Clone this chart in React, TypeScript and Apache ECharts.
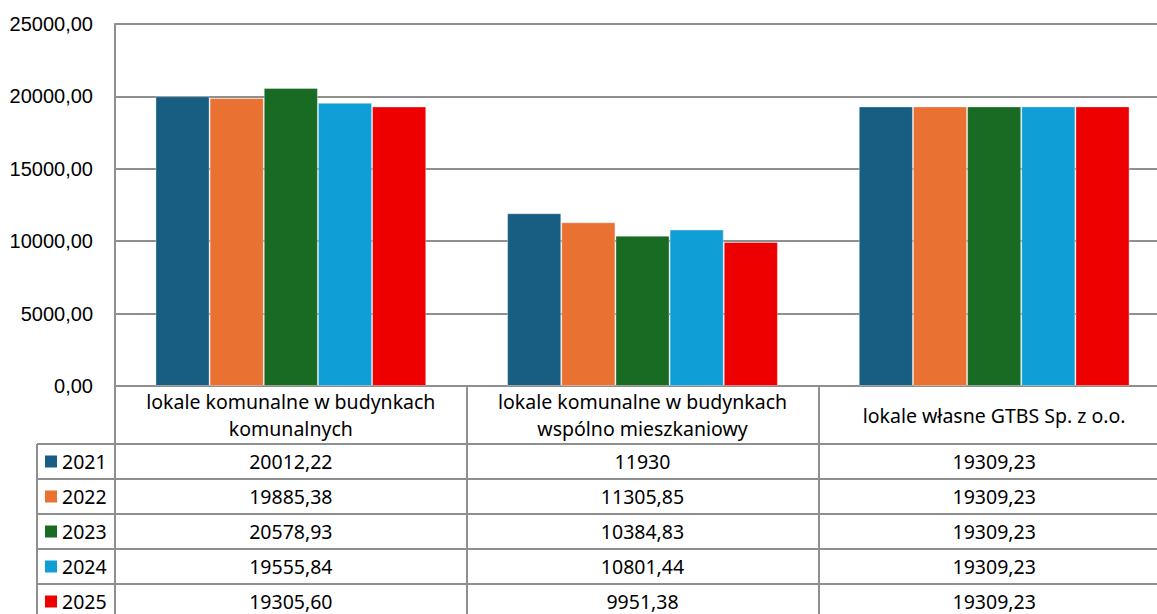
import React, { useEffect, useRef } from "react";
import * as echarts from "echarts";

const categories = [
  "lokale komunalne w budynkach\nkomunalnych",
  "lokale komunalne w budynkach\nwspólno mieszkaniowy",
  "lokale własne GTBS Sp. z o.o.",
];
const years = ["2021", "2022", "2023", "2024", "2025"];
const values2021 = [20012.22, 11930, 19309.23];
const values2022 = [19885.38, 11305.85, 19309.23];
const values2023 = [20578.93, 10384.83, 19309.23];
const values2024 = [19555.84, 10801.44, 19309.23];
const values2025 = [19305.6, 9951.38, 19309.23];
const seriesValues = [values2021, values2022, values2023, values2024, values2025];
const colors = ["#175E82", "#E97132", "#196B24", "#0F9ED5", "#EE0000"];
const yMin = 0;
const yMax = 25000;
const yInterval = 5000;

const fmt = (v: number) =>
  Number.isInteger(v) ? String(v) : v.toFixed(2).replace(".", ",");

const GRID_LEFT = 115;
const GRID_TOP = 24;
const GRID_W = 1055;
const GRID_H = 362;
const TABLE_TOP = 444;
const ROW_H = 35;
const LEG_LEFT = 37;
const LINE = "#8f8f8f";
const LW = 2;
const TXT_FONT = "'Noto Sans', sans-serif";
const TXT_SIZE = 19.5;

export default function App() {
  const ref = useRef<HTMLDivElement>(null);
  useEffect(() => {
    if (!ref.current) return;
    const chart = echarts.init(ref.current, null, { renderer: "svg" });
    chart.setOption({
      animation: false,
      backgroundColor: "#ffffff",
      grid: {
        left: GRID_LEFT,
        top: GRID_TOP,
        width: GRID_W,
        height: GRID_H,
        containLabel: false,
        outerBoundsMode: "none",
      },
      xAxis: {
        type: "category",
        data: categories,
        axisLine: { show: true, lineStyle: { color: LINE, width: LW } },
        axisTick: { show: true, length: 614 - (GRID_TOP + GRID_H), lineStyle: { color: LINE, width: LW } },
        axisLabel: {
          margin: 29,
          verticalAlign: "middle",
          color: "#000",
          fontFamily: TXT_FONT,
          fontSize: TXT_SIZE,
          lineHeight: 27,
          align: "center",
          interval: 0,
        },
      },
      yAxis: {
        type: "value",
        min: yMin,
        max: yMax,
        interval: yInterval,
        axisLine: { show: true, lineStyle: { color: LINE, width: LW } },
        axisTick: { show: false },
        splitLine: { show: true, lineStyle: { color: LINE, width: LW } },
        axisLabel: {
          margin: 22,
          color: "#000",
          fontFamily: "'Liberation Sans', Arial, sans-serif",
          fontSize: 20,
          formatter: (v: number) => v.toFixed(2).replace(".", ","),
        },
      },
      series: years.map((y, i) => ({
        name: y,
        type: "bar",
        data: seriesValues[i],
        barGap: "0%",
        barCategoryGap: "23%",
        itemStyle: { color: colors[i], borderColor: "rgba(255,255,255,0.35)", borderWidth: 1 },
      })),
    });

    const xs = categories.map((_, i) => chart.convertToPixel({ xAxisIndex: 0 }, i) as number);
    const graphic: any[] = [];
    const bottom = 614;
    for (let r = 0; r < years.length; r++) {
      const y = TABLE_TOP + r * ROW_H;
      graphic.push({
        type: "line",
        shape: { x1: LEG_LEFT, y1: y, x2: 1157, y2: y },
        style: { stroke: LINE, lineWidth: LW },
        silent: true,
      });
    }
    graphic.push({
      type: "line",
      shape: { x1: LEG_LEFT, y1: TABLE_TOP, x2: LEG_LEFT, y2: bottom },
      style: { stroke: LINE, lineWidth: LW },
      silent: true,
    });
    years.forEach((y, r) => {
      const cy = TABLE_TOP + r * ROW_H + ROW_H / 2;
      graphic.push({
        type: "rect",
        shape: { x: 45, y: cy - 6, width: 12, height: 12 },
        style: { fill: colors[r] },
        silent: true,
      });
      graphic.push({
        type: "text",
        x: 62,
        y: cy,
        style: {
          text: y,
          fill: "#000",
          font: `${TXT_SIZE}px ${TXT_FONT}`,
          verticalAlign: "middle",
          align: "left",
        },
        silent: true,
      });
      seriesValues[r].forEach((v, c) => {
        graphic.push({
          type: "text",
          x: xs[c],
          y: cy,
          style: {
            text: fmt(v),
            fill: "#000",
            font: `${TXT_SIZE}px ${TXT_FONT}`,
            verticalAlign: "middle",
            align: "center",
          },
          silent: true,
        });
      });
    });
    chart.setOption({ graphic });

    return () => chart.dispose();
  }, []);
  return (
    <div
      ref={ref}
      style={{ position: "absolute", left: 0, top: 0, width: 1157, height: 614 }}
    />
  );
}
